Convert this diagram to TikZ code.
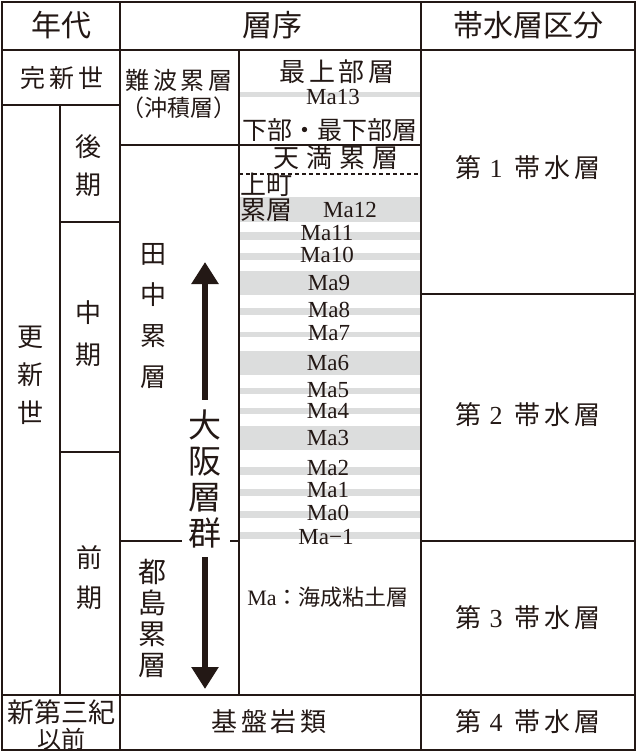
\documentclass[tikz,border=0pt]{standalone}
\usepackage{fontspec}
\setmainfont{Liberation Serif}
\newfontfamily\jfont{Noto Sans CJK JP}
\newfontfamily\jsp{Noto Sans CJK JP}[LetterSpace=15]
\newfontfamily\jwide{Noto Sans CJK JP}[LetterSpace=27]
\usetikzlibrary{positioning,arrows.meta}
\definecolor{ink}{HTML}{231815}
\definecolor{bandgray}{HTML}{DCDDDD}

\begin{document}
\begin{tikzpicture}[x=1pt,y=-1pt,
	rule/.style={draw=ink, line width=1.6pt},
	band/.style={fill=bandgray},
	head/.style={inner sep=0pt, text=ink, font=\jfont\fontsize{30}{30}\selectfont},
	jtxt/.style={inner sep=0pt, text=ink, font=\jfont\fontsize{#1}{#1}\selectfont},
	jsptxt/.style={inner sep=0pt, text=ink, font=\jsp\fontsize{#1}{#1}\selectfont},
	vtxt/.style args={#1/#2}{inner sep=0pt, text=ink, align=center,
	font=\jfont\fontsize{#1}{#2}\selectfont},
	malbl/.style={inner sep=0pt, text=ink, text height=15pt, text depth=0pt,
	font=\fontsize{23}{23}\selectfont},
	bigarrow/.style={draw=ink, line width=5.5pt,
	-{Triangle[width=26pt,length=22pt]}},
	]
	\useasboundingbox (0,0) rectangle (637,752);
	
	% marine clay bands
	\foreach \a/\b in {92/97, 197/222, 232/240, 253/260, 271/295, 308/315,
		332/337, 351/375, 388/394, 408/414, 426/450, 467/475, 489/496,
		511/518, 532/539}
	\fill[band] (239,\a) rectangle (421,\b);
	
	% table rules
	\draw[rule] (2,2) rectangle (635,750);
	\draw[rule] (2,50) -- (635,50);
	\draw[rule] (120,2) -- (120,750);
	\draw[rule] (421,2) -- (421,750);
	\draw[rule] (2,105) -- (120,105);
	\draw[rule] (60,105) -- (60,695);
	\draw[rule] (60,222) -- (120,222);
	\draw[rule] (60,452) -- (120,452);
	\draw[rule] (2,695) -- (635,695);
	\draw[rule] (239,50) -- (239,695);
	\draw[rule] (120,145) -- (421,145);
	\draw[rule] (120,541) -- (182,541);
	\draw[rule] (230,541) -- (239,541);
	\draw[rule] (421,294) -- (635,294);
	\draw[rule] (421,541) -- (635,541);
	\draw[rule, dash pattern=on 4pt off 3pt] (239,174) -- (421,174);
	
	% header
	\node[head] (nendai) at (61,25) {年代};
	\node[head] (soujo) at (272,25) {層序};
	\node[head] (kubun) at (528,25) {帯水層区分};
	
	% age column
	\node[jsptxt=25] (kanshin) at (62,78) {完新世};
	\node[vtxt=26/38] (koushin) at (30,375) {更\\新\\世};
	\node[vtxt=26/38] (kouki) at (88,166) {後\\期};
	\node[vtxt=26/42] (chuuki) at (88,334) {中\\期};
	\node[vtxt=26/40] (zenki) at (89,578) {前\\期};
	\node[jtxt=27] (shindai) at (61,712) {新第三紀};
	\node[jtxt=24] (izen) at (61,739) {以前};
	
	% stratigraphy column
	\node[jsptxt=24] (namba) at (179,80) {難波累層};
	\node[jtxt=23] (chuseki) at (179,108) {（沖積層）};
	\node[jsptxt=26] (saijou) at (337,72) {最上部層};
	\node[jtxt=25] (kabu) at (330,130) {下部・最下部層};
	\node[inner sep=0pt, text=ink, font=\jwide\fontsize{26}{26}\selectfont]
	(tenma) at (336,158) {天満累層};
	\node[jtxt=26, anchor=west] (uemachi) at (240,185) {上町};
	\node[jtxt=26, anchor=west] (uemachi2) at (240,210) {累層};
	\node[vtxt=26/41] (tanaka) at (153,316) {田\\中\\累\\層};
	\node[vtxt=28/31] (miyako) at (152,618) {都\\島\\累\\層};
	\node[vtxt=33/36] (osaka) at (205,479) {大\\阪\\層\\群};
	\node[jsptxt=26] (kiban) at (269,722) {基盤岩類};
	\node[inner sep=0pt, text=ink] (manote) at (328,597)
	{\fontsize{22}{22}\selectfont Ma\jfont：海成粘土層};
	
	\foreach \x/\y/\lbl [count=\i] in {333/97/Ma13, 350/210/Ma12,
		327/233/Ma11, 327/255/Ma10, 329/283/Ma9, 329/310/Ma8, 329/333/Ma7,
		328/363/Ma6, 328/390/Ma5, 328/411/Ma4, 328/438/Ma3, 328/468/Ma2,
		328/490/Ma1, 328/513/Ma0, 326/537/Ma−1}
	\node[malbl] (ma\i) at (\x,\y) {\lbl};
	
	% Osaka group arrows
	\coordinate (uptip) at (205,262);
	\coordinate (dntip) at (205,689);
	\draw[bigarrow] ([yshift=10pt]osaka.north) -- (uptip);
	\draw[bigarrow] ([yshift=-9pt]osaka.south) -- (dntip);
	
	% aquifer column
	\foreach \n/\y in {1/168, 2/415, 3/618, 4/722}
	\node[jsptxt=26] (aq\n) at (528,\y)
	{第\hspace{8pt}{\rmfamily\n}\hspace{12pt}帯水層};
\end{tikzpicture}
\end{document}
